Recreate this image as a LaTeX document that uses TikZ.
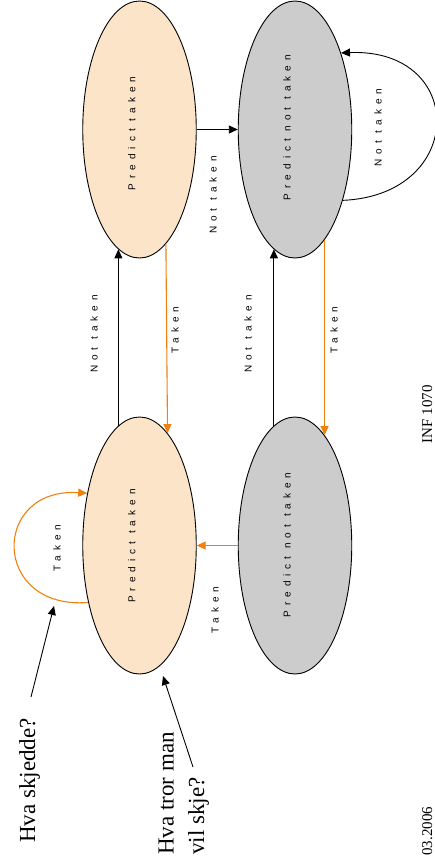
\documentclass[tikz,border=0pt]{standalone}
\usepackage{fontspec}
\setmainfont{Liberation Serif}
\newfontfamily\lblfont[LetterSpace=50]{Liberation Sans}
\usetikzlibrary{shapes.geometric,arrows.meta}
\definecolor{peach}{HTML}{FCE4C8}
\definecolor{grayfill}{HTML}{CCCCCC}
\definecolor{orangeline}{HTML}{F08010}
\begin{document}
\begin{tikzpicture}[x=1pt,y=-1pt,
  state/.style={ellipse, draw=black, line width=0.9pt, minimum width=113.5pt, minimum height=257pt, inner sep=0pt},
  ptk/.style={state, fill=peach},
  pntk/.style={state, fill=grayfill},
  lbl/.style={rotate=90, inner sep=0pt, font=\lblfont\fontsize{10}{11}\selectfont},
  big/.style={rotate=90, inner sep=0pt, font=\fontsize{23}{30.5}\selectfont},
  foot/.style={rotate=90, inner sep=0pt, font=\fontsize{15}{18}\selectfont},
  blk/.style={draw=black, line width=0.9pt, -{Triangle[length=9pt,width=8pt]}},
  org/.style={draw=orangeline, line width=1.1pt, -{Triangle[length=9pt,width=8pt]}},
]
\useasboundingbox (0,0) rectangle (435,868);
% states
\node[ptk] (tl) at (139.5,129.5) {};
\node[pntk] (tr) at (295,129.5) {};
\node[ptk] (bl) at (139.5,545.5) {};
\node[pntk] (br) at (295,545.5) {};
% state labels
\node[lbl] (l1) at (131.7,133.5) {Predict taken};
\node[lbl] (l2) at (287,127.5) {Predict not taken};
\node[lbl] (l3) at (131.7,546) {Predict taken};
\node[lbl] (l4) at (287,545) {Predict not taken};
% transitions
\draw[blk] (bl.100) -- (tl.260);
\draw[org] (tl.283.4) -- (bl.76.6);
\draw[blk] (br.100) -- (tr.260);
\draw[org] (tr.285) -- (br.75);
\draw[blk] (tl.east) -- (tr.west);
\draw[org] (br.west) -- (bl.east);
\draw[blk] (tr.304) .. controls (467,195) and (467,48) .. (tr.59);
\draw[org] (bl.228) .. controls (-9,610) and (-9,487) .. (bl.135);
% transition labels
\node[lbl] (t1) at (213,195) {Not taken};
\node[lbl] (t2) at (378,127.5) {Not taken};
\node[lbl] (t3) at (94,334) {Not taken};
\node[lbl] (t4) at (175,330) {Taken};
\node[lbl] (t5) at (248,334) {Not taken};
\node[lbl] (t6) at (334,330) {Taken};
\node[lbl] (t7) at (215,610) {Taken};
\node[lbl] (t8) at (57,548) {Taken};
% annotations
\node[big, anchor=base west] (q1) at (35,843) {Hva skjedde?};
\node[big, anchor=north west, align=left] (q2) at (158.3,855) {Hva tror man\\vil skje?};
\coordinate (a1s) at (31,697);
\coordinate (a1e) at (54,606);
\coordinate (a2s) at (193,767);
\coordinate (a2e) at (163,676);
\draw[blk] (a1s) -- (a1e);
\draw[blk] (a2s) -- (a2e);
% footer
\node[foot, anchor=base west] (inf) at (432,443.3) {INF 1070};
\node[foot, anchor=base east] (dt) at (432,806.7) {03.2006};
\end{tikzpicture}
\end{document}
